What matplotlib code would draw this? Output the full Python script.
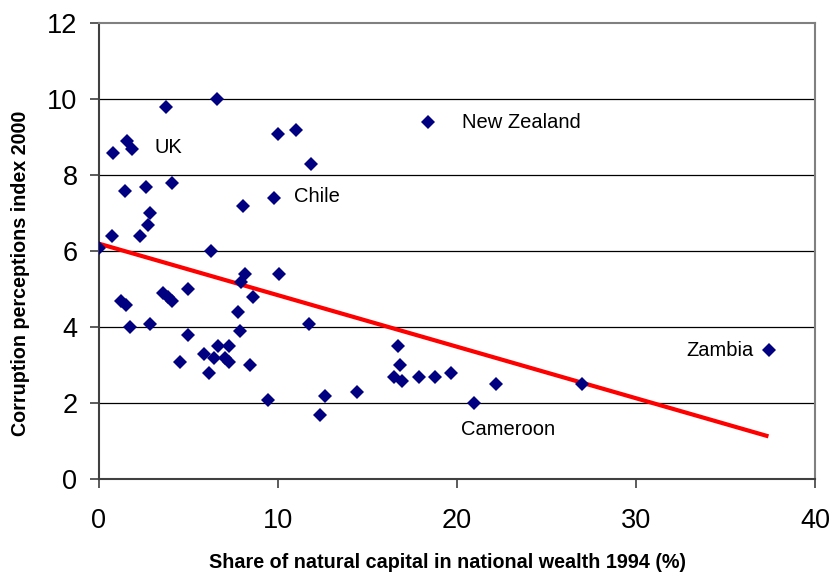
import matplotlib
matplotlib.use("Agg")
import matplotlib.pyplot as plt

# Share of natural capital in national wealth 1994 (%)
natural_capital = [0.0, 0.75, 0.8, 1.55, 1.83, 3.73, 6.61, 9.98, 11.03, 11.86,
                   1.47, 2.64, 4.1, 8.05, 9.77, 2.84, 2.75, 2.29, 6.28, 8.17,
                   10.05, 7.95, 1.21, 1.51, 3.6, 3.86, 4.06, 4.99, 8.59, 7.76,
                   1.73, 2.84, 11.75, 7.85, 4.99, 6.65, 7.24, 5.85, 6.44, 7.06,
                   7.24, 4.52, 8.46, 6.17, 9.42, 12.65, 12.32, 14.42, 16.7, 16.79,
                   16.48, 16.92, 17.9, 18.79, 19.65, 20.93, 22.18, 27.0, 37.41, 18.37]
# Corruption perceptions index 2000
cpi = [6.1, 6.4, 8.6, 8.9, 8.7, 9.8, 10.0, 9.1, 9.2, 8.3,
       7.6, 7.7, 7.8, 7.2, 7.4, 7.0, 6.7, 6.4, 6.0, 5.4,
       5.4, 5.2, 4.7, 4.6, 4.9, 4.8, 4.7, 5.0, 4.8, 4.4,
       4.0, 4.1, 4.1, 3.9, 3.8, 3.5, 3.5, 3.3, 3.2, 3.2,
       3.1, 3.1, 3.0, 2.8, 2.1, 2.2, 1.7, 2.3, 3.5, 3.0,
       2.7, 2.6, 2.7, 2.7, 2.8, 2.0, 2.5, 2.5, 3.4, 9.4]

# Linear trend line end points
trend_x = [0.0, 37.4]
trend_y = [6.2, 1.13]

country_labels = ["UK", "Chile", "New Zealand", "Zambia", "Cameroon"]
label_x = [3.1, 10.9, 20.3, 32.8, 20.2]
label_y = [8.72, 7.45, 9.4, 3.38, 1.3]

x_ticks = [0, 10, 20, 30, 40]
y_ticks = [0, 2, 4, 6, 8, 10, 12]

plt.rcParams['font.family'] = ['Liberation Sans', 'DejaVu Sans']

fig = plt.figure(figsize=(8.36, 5.8), dpi=100)
ax = fig.add_axes([99/836, 1 - 479.3/580, (815 - 99)/836, (479.3 - 23.3)/580])

for yv in y_ticks[1:-1]:
    ax.axhline(yv, color='black', lw=0.9, zorder=1)

ax.plot(trend_x, trend_y, color='#ff0000', lw=3.0, solid_capstyle='butt', zorder=2)
ax.plot(natural_capital, cpi, linestyle='none', marker='D', markersize=7.6,
        color='#000080', markeredgewidth=0, zorder=3)

for t, tx, ty in zip(country_labels, label_x, label_y):
    ax.text(tx, ty, t, fontsize=14.5, va='center', ha='left', color='black', zorder=4)

ax.set_xlim(0, 40)
ax.set_ylim(0, 12)
ax.set_xticks(x_ticks)
ax.set_yticks(y_ticks)
ax.tick_params(axis='both', direction='out', length=6.5, width=1.2, color='#404040',
               labelsize=19.5, top=False, right=False)
ax.tick_params(axis='y', pad=9)
ax.tick_params(axis='x', pad=14)

for side in ['left', 'bottom']:
    ax.spines[side].set_color('#404040')
    ax.spines[side].set_linewidth(1.5)
for side in ['top', 'right']:
    ax.spines[side].set_color('#808080')
    ax.spines[side].set_linewidth(1.5)

fig.text(447.5/836, 1 - 563/580, 'Share of natural capital in national wealth 1994 (%)',
         fontsize=14.2, fontweight='bold', ha='center', va='center')
fig.text(21/836, 1 - 273/580, 'Corruption perceptions index 2000',
         fontsize=14.2, fontweight='bold', ha='center', va='center', rotation=90)

fig.savefig('out.png', dpi=100)
